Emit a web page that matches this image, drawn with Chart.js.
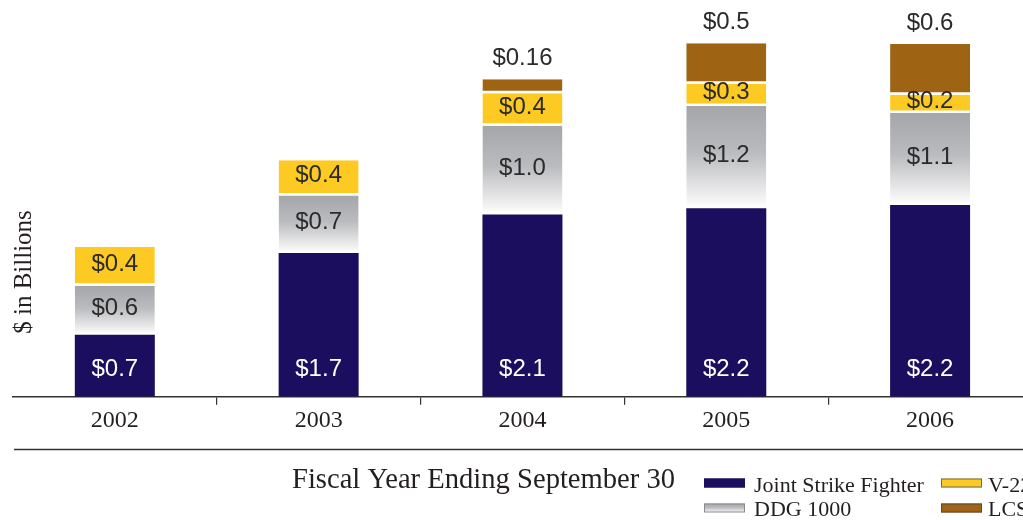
<!DOCTYPE html>
<html>
<head>
<meta charset="utf-8">
<script src="https://cdn.jsdelivr.net/npm/chart.js@4.4.1/dist/chart.umd.min.js"></script>
<style>
  html, body { margin: 0; padding: 0; background: #fff; overflow: hidden; }
  #wrap { width: 1040px; height: 520px; }
</style>
</head>
<body>
<div id="wrap"><canvas id="c" width="1040" height="520"></canvas></div>
<script>
// ---- data ----
const years = ['2002', '2003', '2004', '2005', '2006'];
const jsf = [0.72, 1.67, 2.12, 2.19, 2.23];
const ddg = [0.57, 0.67, 1.03, 1.19, 1.07];
const v22 = [0.45, 0.41, 0.38, 0.26, 0.21];
const lcs = [0, 0, 0.16, 0.47, 0.59];
const jsfLabels = ['$0.7', '$1.7', '$2.1', '$2.2', '$2.2'];
const ddgLabels = ['$0.6', '$0.7', '$1.0', '$1.2', '$1.1'];
const v22Labels = ['$0.4', '$0.4', '$0.4', '$0.3', '$0.2'];
const lcsLabels = [null, null, '$0.16', '$0.5', '$0.6'];
const seriesNames = ['Joint Strike Fighter', 'DDG 1000', 'V-22', 'LCS'];
const yAxisTitle = '$ in Billions';
const xAxisTitle = 'Fiscal Year Ending September 30';

const NAVY = '#1b0e5f';
const YELLOW = '#fdca24';
const BROWN = '#9e6414';
const TEXT = '#231f20';
const SERIF = '"Liberation Serif", "DejaVu Serif", serif';
const SANS = '"Liberation Sans", Arial, sans-serif';

function grayGradient(c, x0, y0, x1, y1) {
  const g = c.createLinearGradient(x0, y0, x1, y1);
  g.addColorStop(0, '#a5a6aa');
  g.addColorStop(0.45, '#babbbe');
  g.addColorStop(0.82, '#e8e8e9');
  g.addColorStop(1, '#ffffff');
  return g;
}

const ddgFill = (context) => {
  const chart = context.chart;
  const y = chart.scales && chart.scales.y;
  if (!y || context.type !== 'data') return '#b5b6b9';
  const i = context.dataIndex;
  const bottom = y.getPixelForValue(jsf[i]);
  const top = y.getPixelForValue(jsf[i] + ddg[i]);
  if (!isFinite(top) || !isFinite(bottom)) return '#b5b6b9';
  return grayGradient(chart.ctx, 0, top, 0, bottom);
};

const gap = { top: 0, left: 0, right: 0, bottom: 2.5 };

const labelPlugin = {
  id: 'segLabels',
  afterDatasetsDraw(chart) {
    const c = chart.ctx;
    c.save();
    c.font = '24px ' + SANS;
    c.textAlign = 'center';
    c.textBaseline = 'middle';
    const metas = [0, 1, 2, 3].map(i => chart.getDatasetMeta(i).data);
    for (let i = 0; i < years.length; i++) {
      const jb = metas[0][i];
      c.fillStyle = '#ffffff';
      c.fillText(jsfLabels[i], jb.x, jb.base - 27);
      c.fillStyle = '#2b2b2b';
      const db = metas[1][i];
      c.fillText(ddgLabels[i], db.x, (db.y + db.base) / 2 - 2);
      const vb = metas[2][i];
      c.fillText(v22Labels[i], vb.x, (vb.y + vb.base) / 2 - 2.5);
      if (lcsLabels[i]) {
        const lb = metas[3][i];
        c.fillText(lcsLabels[i], lb.x, lb.y - 21);
      }
    }
    c.restore();
  },
  afterDraw(chart) {
    const c = chart.ctx;
    c.save();
    // lower rule
    c.strokeStyle = '#333';
    c.lineWidth = 1.5;
    c.beginPath();
    c.moveTo(14, 449.5);
    c.lineTo(1040, 449.5);
    c.stroke();
    // y title
    c.fillStyle = TEXT;
    c.font = '25px ' + SERIF;
    c.textAlign = 'center';
    c.textBaseline = 'middle';
    c.translate(24, 272);
    c.rotate(-Math.PI / 2);
    c.fillText(yAxisTitle, 0, 0);
    c.restore();

    c.save();
    c.fillStyle = TEXT;
    c.font = '28.6px ' + SERIF;
    c.textAlign = 'left';
    c.textBaseline = 'alphabetic';
    c.fillText(xAxisTitle, 292, 488);
    // legend
    const items = [
      { x: 704, y: 478.5, fill: NAVY, border: NAVY, text: seriesNames[0], tx: 754, ty: 491.5 },
      { x: 704, y: 503.5, fill: 'gray', border: '#8a8a8c', text: seriesNames[1], tx: 754, ty: 516 },
      { x: 941, y: 478.5, fill: YELLOW, border: '#6b6b6b', text: seriesNames[2], tx: 988, ty: 491.5 },
      { x: 941, y: 503.5, fill: BROWN, border: '#5a4a30', text: seriesNames[3], tx: 988, ty: 516 }
    ];
    c.font = '22px ' + SERIF;
    items.forEach(it => {
      const w = 41, h = 9;
      c.fillStyle = it.fill === 'gray' ? grayGradient(c, 0, it.y, 0, it.y + h) : it.fill;
      c.fillRect(it.x, it.y, w, h);
      c.strokeStyle = it.border;
      c.lineWidth = 1;
      c.strokeRect(it.x + 0.5, it.y + 0.5, w - 1, h - 1);
      c.fillStyle = TEXT;
      c.fillText(it.text, it.tx, it.ty);
    });
    c.restore();
  }
};

new Chart(document.getElementById('c'), {
  type: 'bar',
  data: {
    labels: years,
    datasets: [
      { label: seriesNames[0], data: jsf, backgroundColor: NAVY, borderWidth: 0 },
      { label: seriesNames[1], data: ddg, backgroundColor: ddgFill, borderColor: '#ffffff', borderWidth: gap, borderSkipped: false },
      { label: seriesNames[2], data: v22, backgroundColor: YELLOW, borderColor: '#ffffff', borderWidth: gap, borderSkipped: false },
      { label: seriesNames[3], data: lcs, backgroundColor: BROWN, borderColor: '#ffffff', borderWidth: gap, borderSkipped: false }
    ]
  },
  options: {
    responsive: false,
    animation: false,
    devicePixelRatio: 1,
    layout: { padding: { left: 12.9, right: 8, top: 0, bottom: 0 } },
    datasets: { bar: { categoryPercentage: 1, barPercentage: 0.3925 } },
    plugins: { legend: { display: false }, tooltip: { enabled: false } },
    scales: {
      x: {
        stacked: true,
        offset: true,
        grid: {
          display: true,
          offset: true,
          drawOnChartArea: false,
          drawTicks: true,
          tickLength: 8,
          lineWidth: 1.2,
          color: (ctx) => ctx.index === 0 ? 'rgba(0,0,0,0)' : '#333'
        },
        border: { display: true, color: '#333', width: 1.5 },
        ticks: { color: TEXT, font: { family: SERIF, size: 24 }, padding: 2, maxRotation: 0 },
        afterFit: (scale) => { scale.height = 123.3; }
      },
      y: {
        stacked: true,
        display: false,
        min: 0,
        max: 4.613
      }
    }
  },
  plugins: [labelPlugin]
});
</script>
</body>
</html>
